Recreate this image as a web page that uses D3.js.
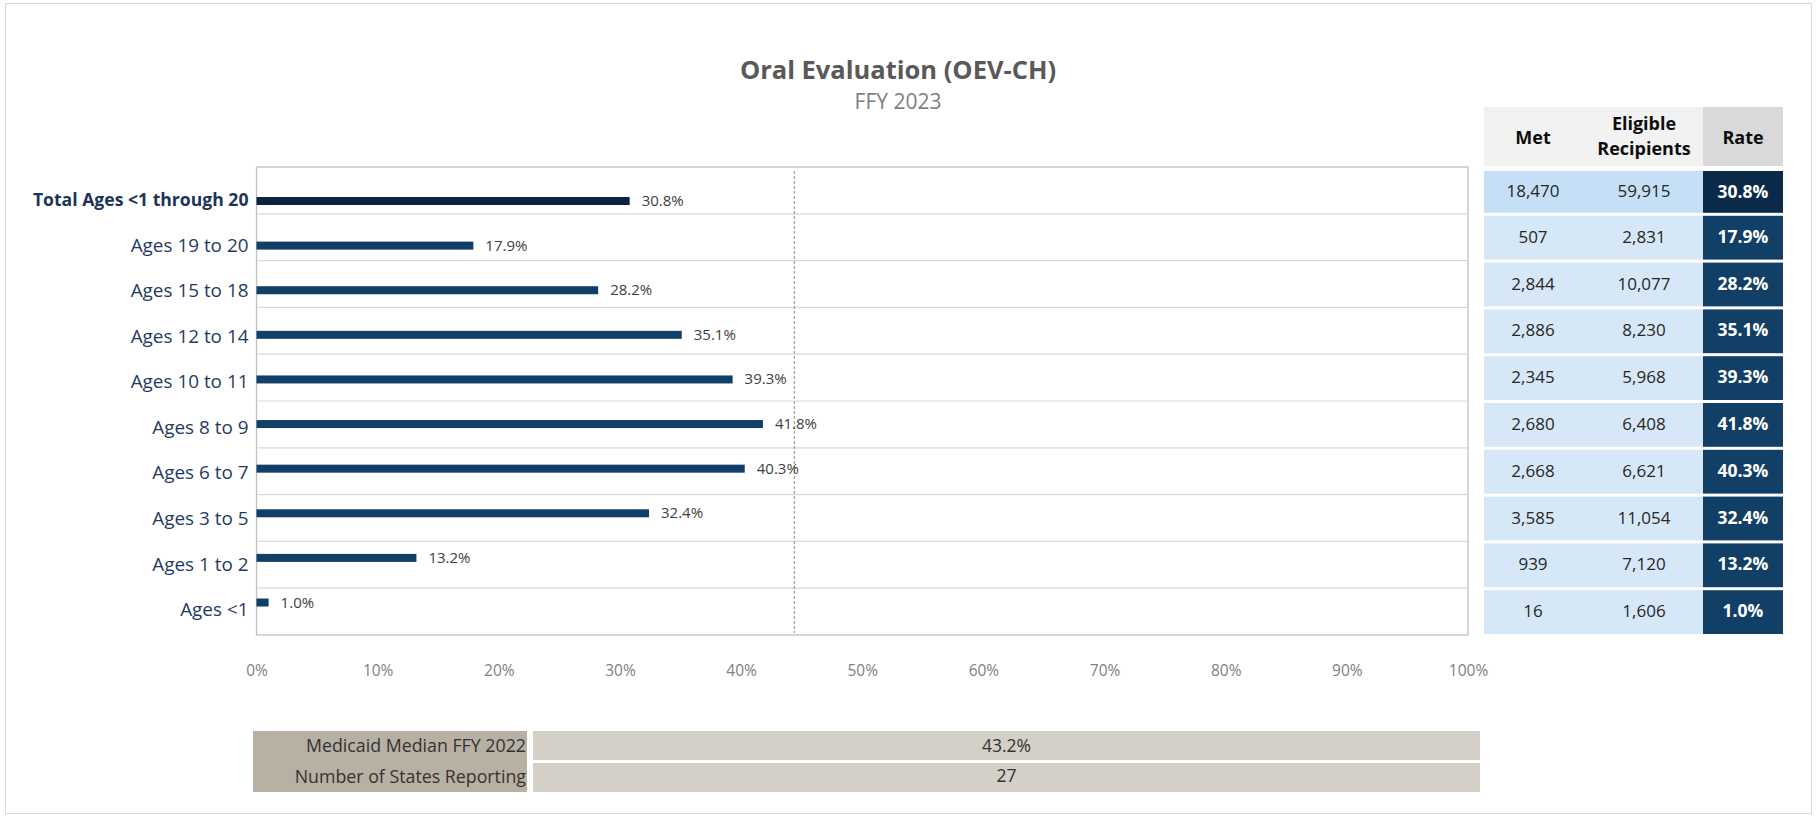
<!DOCTYPE html>
<html>
<head>
<meta charset="utf-8">
<script src="https://cdn.jsdelivr.net/npm/d3@7"></script>
<style>
  html, body { margin: 0; padding: 0; background: #fff; }
  svg { display: block; }
</style>
</head>
<body>
<svg id="chart" width="1816" height="818"></svg>
<script>
// ---------- DATA ----------
const title = "Oral Evaluation (OEV-CH)";
const subtitle = "FFY 2023";
const categories = [
  "Total Ages <1 through 20", "Ages 19 to 20", "Ages 15 to 18", "Ages 12 to 14",
  "Ages 10 to 11", "Ages 8 to 9", "Ages 6 to 7", "Ages 3 to 5", "Ages 1 to 2", "Ages <1"
];
const rates = [30.8, 17.9, 28.2, 35.1, 39.3, 41.8, 40.3, 32.4, 13.2, 1.0];
const met = [18470, 507, 2844, 2886, 2345, 2680, 2668, 3585, 939, 16];
const eligible = [59915, 2831, 10077, 8230, 5968, 6408, 6621, 11054, 7120, 1606];
const xTicks = [0, 10, 20, 30, 40, 50, 60, 70, 80, 90, 100];
const tableHeaders = ["Met", ["Eligible", "Recipients"], "Rate"];
const medianLinePos = 44.4;               // where the dashed median line sits on the axis
const footerLabels = ["Medicaid Median FFY 2022", "Number of States Reporting"];
const footerValues = ["43.2%", "27"];

// ---------- LAYOUT ----------
const svg = d3.select("#chart");
const plot = { left: 256.5, right: 1468, top: 167, bottom: 635 };
const fontUI = "'Open Sans', 'Noto Sans', sans-serif";

// outer frame
svg.append("rect").attr("x", 5.5).attr("y", 3.5).attr("width", 1806).attr("height", 810)
  .attr("fill", "#fff").attr("stroke", "#d9d9d9").attr("stroke-width", 1);

// title
svg.append("text").attr("x", 898).attr("y", 79).attr("text-anchor", "middle")
  .attr("font-family", fontUI).attr("font-weight", 700).attr("font-size", 25.5)
  .attr("fill", "#595959").text(title);
svg.append("text").attr("x", 898).attr("y", 109).attr("text-anchor", "middle")
  .attr("font-family", fontUI).attr("font-size", 21)
  .attr("fill", "#7f7f7f").text(subtitle);

// scales
const x = d3.scaleLinear().domain([0, 100]).range([plot.left, plot.right]);
const rowBand = d3.scaleBand().domain(categories).range([plot.top, plot.bottom]);
const barPos = d3.scalePoint().domain(categories).range([201, 602.5]);
const labelPos = d3.scalePoint().domain(categories).range([201, 611]);

// plot frame + gridlines
svg.append("rect").attr("x", plot.left).attr("y", plot.top)
  .attr("width", plot.right - plot.left).attr("height", plot.bottom - plot.top)
  .attr("fill", "#fff").attr("stroke", "#c4c0b8").attr("stroke-width", 1.3);
svg.append("g").selectAll("line").data(categories.slice(1)).join("line")
  .attr("x1", plot.left + 1).attr("x2", plot.right - 1)
  .attr("y1", d => rowBand(d)).attr("y2", d => rowBand(d))
  .attr("stroke", "#d9d9d9").attr("stroke-width", 1.2);

// median dashed line
svg.append("line").attr("x1", x(medianLinePos)).attr("x2", x(medianLinePos))
  .attr("y1", plot.top + 4).attr("y2", plot.bottom - 2)
  .attr("stroke", "#a8a39b").attr("stroke-width", 1.3).attr("stroke-dasharray", "3,2");

// bars
const barH = 8;
svg.append("g").selectAll("rect").data(categories).join("rect")
  .attr("x", x(0)).attr("y", d => barPos(d) - barH / 2)
  .attr("width", (d, i) => x(rates[i]) - x(0)).attr("height", barH)
  .attr("fill", (d, i) => i === 0 ? "#0b2340" : "#123f67");

// value labels
svg.append("g").selectAll("text").data(categories).join("text")
  .attr("x", (d, i) => x(rates[i]) + 12).attr("y", d => barPos(d) + 1)
  .attr("dominant-baseline", "middle")
  .attr("font-family", fontUI).attr("font-size", 15).attr("fill", "#404040")
  .text((d, i) => rates[i].toFixed(1) + "%");

// category axis labels
svg.append("g").selectAll("text").data(categories).join("text")
  .attr("x", plot.left - 8).attr("y", d => labelPos(d))
  .attr("text-anchor", "end").attr("dominant-baseline", "middle")
  .attr("font-family", fontUI)
  .attr("font-size", (d, i) => i === 0 ? 17.6 : 18.9)
  .attr("font-weight", (d, i) => i === 0 ? 700 : 400)
  .attr("fill", (d, i) => i === 0 ? "#1b3457" : "#1f3b63")
  .text(d => d);

// x axis tick labels
const xAxis = d3.axisBottom(x).tickValues(xTicks).tickFormat(d => d + "%").tickSize(0).tickPadding(0);
const gx = svg.append("g").attr("transform", `translate(0,${665})`).call(xAxis);
gx.select(".domain").remove();
gx.selectAll("text").attr("font-family", fontUI).attr("font-size", 15.5).attr("fill", "#808080");

// ---------- RIGHT TABLE ----------
const tbl = { left: 1484, split: 1703, right: 1783, headTop: 107, headBottom: 166 };
const colCenters = [1533, 1644, 1743];
svg.append("rect").attr("x", tbl.left).attr("y", tbl.headTop)
  .attr("width", tbl.split - tbl.left).attr("height", tbl.headBottom - tbl.headTop).attr("fill", "#f2f2f2");
svg.append("rect").attr("x", tbl.split).attr("y", tbl.headTop)
  .attr("width", tbl.right - tbl.split).attr("height", tbl.headBottom - tbl.headTop).attr("fill", "#d9d9d9");
tableHeaders.forEach((h, i) => {
  const t = svg.append("text").attr("x", colCenters[i]).attr("text-anchor", "middle")
    .attr("font-family", fontUI).attr("font-weight", 700).attr("font-size", 18).attr("fill", "#0d0d0d");
  if (Array.isArray(h)) {
    t.append("tspan").attr("x", colCenters[i]).attr("y", 130).text(h[0]);
    t.append("tspan").attr("x", colCenters[i]).attr("y", 155).text(h[1]);
  } else {
    t.attr("y", 144).text(h);
  }
});

const fmt = d3.format(",");
const rowsG = svg.append("g").selectAll("g").data(categories).join("g");
rowsG.append("rect").attr("x", tbl.left).attr("y", (d, i) => i === 0 ? 171 : rowBand(d) + 2)
  .attr("width", tbl.split - tbl.left)
  .attr("height", (d, i) => i === 0 ? rowBand(d) + rowBand.bandwidth() - 1 - 171 : rowBand.bandwidth() - 3)
  .attr("fill", (d, i) => i === 0 ? "#c5dff6" : "#d6e8f7");
rowsG.append("rect").attr("x", tbl.split).attr("y", (d, i) => i === 0 ? 171 : rowBand(d) + 2)
  .attr("width", tbl.right - tbl.split)
  .attr("height", (d, i) => i === 0 ? rowBand(d) + rowBand.bandwidth() - 1 - 171 : rowBand.bandwidth() - 3)
  .attr("fill", (d, i) => i === 0 ? "#0b2a4a" : "#123f66");
const cy = (d, i) => (i === 0 ? (171 + rowBand(d) + rowBand.bandwidth() - 1) / 2 : rowBand(d) + rowBand.bandwidth() / 2) + 1;
rowsG.append("text").attr("x", colCenters[0]).attr("y", cy)
  .attr("text-anchor", "middle").attr("dominant-baseline", "middle")
  .attr("font-family", fontUI).attr("font-size", 17).attr("fill", "#262626")
  .text((d, i) => fmt(met[i]));
rowsG.append("text").attr("x", colCenters[1]).attr("y", cy)
  .attr("text-anchor", "middle").attr("dominant-baseline", "middle")
  .attr("font-family", fontUI).attr("font-size", 17).attr("fill", "#262626")
  .text((d, i) => fmt(eligible[i]));
rowsG.append("text").attr("x", colCenters[2]).attr("y", cy)
  .attr("text-anchor", "middle").attr("dominant-baseline", "middle")
  .attr("font-family", fontUI).attr("font-weight", 700).attr("font-size", 17.5).attr("fill", "#fff")
  .text((d, i) => rates[i].toFixed(1) + "%");

// ---------- BOTTOM TABLE ----------
const foot = { left: 253, split: 527, valLeft: 533, right: 1480, top: 731, rowH: 30.5 };
svg.append("rect").attr("x", foot.left).attr("y", foot.top)
  .attr("width", foot.split - foot.left).attr("height", foot.rowH * 2).attr("fill", "#b8b0a3");
footerLabels.forEach((lab, i) => {
  const y0 = foot.top + i * foot.rowH;
  svg.append("rect").attr("x", foot.valLeft).attr("y", y0 + (i === 0 ? 0 : 1.5))
    .attr("width", foot.right - foot.valLeft).attr("height", foot.rowH - 1.5).attr("fill", "#d4cfc7");
  svg.append("text").attr("x", foot.split - 1).attr("y", y0 + foot.rowH / 2 + 1)
    .attr("text-anchor", "end").attr("dominant-baseline", "middle")
    .attr("font-family", fontUI).attr("font-size", 17.8).attr("fill", "#333").text(lab);
  svg.append("text").attr("x", (foot.valLeft + foot.right) / 2).attr("y", y0 + foot.rowH / 2 + 1)
    .attr("text-anchor", "middle").attr("dominant-baseline", "middle")
    .attr("font-family", fontUI).attr("font-size", 17.5).attr("fill", "#333").text(footerValues[i]);
});
</script>
</body>
</html>
